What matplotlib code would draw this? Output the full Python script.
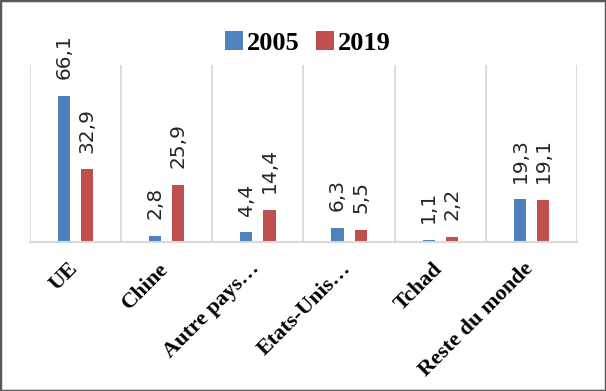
import numpy as np
import matplotlib.pyplot as plt
import matplotlib.transforms as mtransforms
from matplotlib.patches import Rectangle

categories = ['UE', 'Chine', 'Autre pays…', 'Etats-Unis…', 'Tchad', 'Reste du monde']
values_2005 = [66.1, 2.8, 4.4, 6.3, 1.1, 19.3]
values_2019 = [32.9, 25.9, 14.4, 5.5, 2.2, 19.1]
years = ['2005', '2019']
colors = ['#4F81BD', '#C0504D']


def fmt(v):
    return ('%.1f' % v).replace('.', ',')


fig = plt.figure(figsize=(6.06, 3.91), dpi=100)
ax = fig.add_axes([30 / 606, 1 - 242 / 391, 547 / 606, 177 / 391])

x = np.arange(len(categories))
w = 0.132
off = 0.127
b1 = ax.bar(x - off, values_2005, w, color=colors[0], label=years[0])
b2 = ax.bar(x + off, values_2019, w, color=colors[1], label=years[1])

for bars, vals in ((b1, values_2005), (b2, values_2019)):
    ax.bar_label(bars, labels=[fmt(v) for v in vals], padding=12, rotation=90,
                 fontsize=14.5, color='#262626', family='DejaVu Sans')

ax.set_xlim(-0.5, len(categories) - 0.5)
ax.set_ylim(0, 80)

# vertical separators between categories
ax.vlines(np.arange(len(categories) + 1) - 0.5, 0, 80, color='#D9D9D9', lw=1.3, zorder=0)

for s in ['top', 'left', 'right']:
    ax.spines[s].set_visible(False)
ax.spines['bottom'].set_color('#D9D9D9')
ax.spines['bottom'].set_linewidth(1.5)
ax.set_yticks([])
ax.set_xticks(x)
ax.set_xticklabels(categories, rotation=45, ha='right', rotation_mode='default',
                   fontsize=16, fontweight='bold', family='Liberation Serif')
ax.tick_params(axis='x', length=0, pad=12)
shift = mtransforms.ScaledTranslation(6 / 100, 0, fig.dpi_scale_trans)
for lbl in ax.get_xticklabels():
    lbl.set_transform(lbl.get_transform() + shift)

fig.legend(handles=[b1, b2], loc='center', bbox_to_anchor=(308 / 606, 1 - 43 / 391),
           ncol=2, frameon=False, handlelength=0.7, handleheight=0.7,
           handletextpad=0.15, columnspacing=0.6,
           prop={'family': 'Liberation Serif', 'weight': 'bold', 'size': 19})

fig.patches.append(Rectangle((0, 0), 1, 1, transform=fig.transFigure, fill=False,
                             edgecolor='#595959', lw=2.5))

fig.savefig('out.png', dpi=100)
